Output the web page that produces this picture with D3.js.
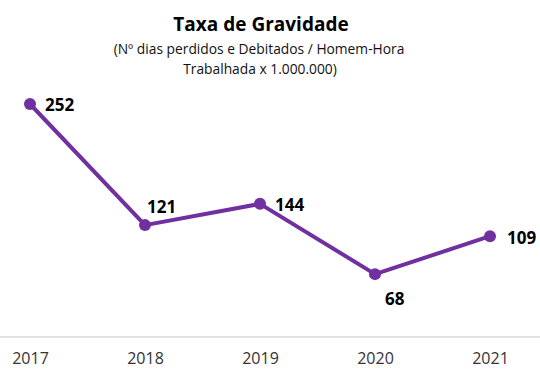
<!DOCTYPE html>
<html>
<head>
<meta charset="utf-8">
<script src="https://cdn.jsdelivr.net/npm/d3@7"></script>
<style>
  body { margin: 0; background: #fff; }
  svg { display: block; font-family: "Open Sans", "Liberation Sans", sans-serif; }
</style>
</head>
<body>
<div id="chart"></div>
<script>
const years = ["2017", "2018", "2019", "2020", "2021"];
const values = [252, 121, 144, 68, 109];
// label offsets per point: [dx, dy]
const labelPos = [[15, 7], [2, -12], [15, 7], [10, 31], [17, 8]];

const width = 540;
const height = 371;

const svg = d3.select("#chart")
    .append("svg")
    .attr("width", width)
    .attr("height", height)
    .attr("viewBox", [0, 0, width, height]);

//Title
svg.append("text")
    .attr("x", 261)
    .attr("y", 31)
    .attr("text-anchor", "middle")
    .style("font-size", "19px")
    .style("font-weight", "bold")
    .text("Taxa de Gravidade");

svg.append("text")
    .attr("x", 259)
    .attr("y", 54)
    .attr("text-anchor", "middle")
    .style("font-size", "13.8px")
    .style("fill", "#111")
    .text("(Nº dias perdidos e Debitados / Homem-Hora");

svg.append("text")
    .attr("x", 260)
    .attr("y", 74)
    .attr("text-anchor", "middle")
    .style("font-size", "13.8px")
    .style("fill", "#111")
    .text("Trabalhada x 1.000.000)");

const xScale = d3.scalePoint()
    .domain(years)
    .range([30, 490]);

const yScale = d3.scaleLinear()
    .domain([0, 252])
    .range([337, 104]);

//X Axis
const xAxis = d3.axisBottom(xScale).tickSize(0).tickPadding(16);
const gx = svg.append("g")
    .attr("transform", `translate(0, ${yScale(0)})`)
    .call(xAxis);
gx.select(".domain").remove();
gx.selectAll("text")
    .style("font-size", "16px")
    .style("font-family", "'Open Sans', sans-serif")
    .attr("fill", "#333");

svg.append("line")
    .attr("x1", 0)
    .attr("x2", width)
    .attr("y1", yScale(0))
    .attr("y2", yScale(0))
    .style("stroke", "#d9d9d9")
    .style("stroke-width", 1.5);

const line = d3.line()
    .x((d, i) => xScale(years[i]))
    .y(d => yScale(d));

svg.append("path")
    .datum(values)
    .attr("d", line)
    .style("fill", "none")
    .style("stroke", "#7030a0")
    .style("stroke-width", 4)
    .style("stroke-linejoin", "round");

svg.selectAll(".dot")
    .data(values)
    .enter()
    .append("circle")
    .attr("cx", (d, i) => xScale(years[i]))
    .attr("cy", d => yScale(d))
    .attr("r", 6)
    .style("fill", "#7030a0");

svg.selectAll(".lbl")
    .data(values)
    .enter()
    .append("text")
    .attr("x", (d, i) => xScale(years[i]) + labelPos[i][0])
    .attr("y", d => yScale(d))
    .attr("dy", (d, i) => labelPos[i][1])
    .style("font-size", "17px")
    .style("font-weight", "bold")
    .text(d => d);
</script>
</body>
</html>
